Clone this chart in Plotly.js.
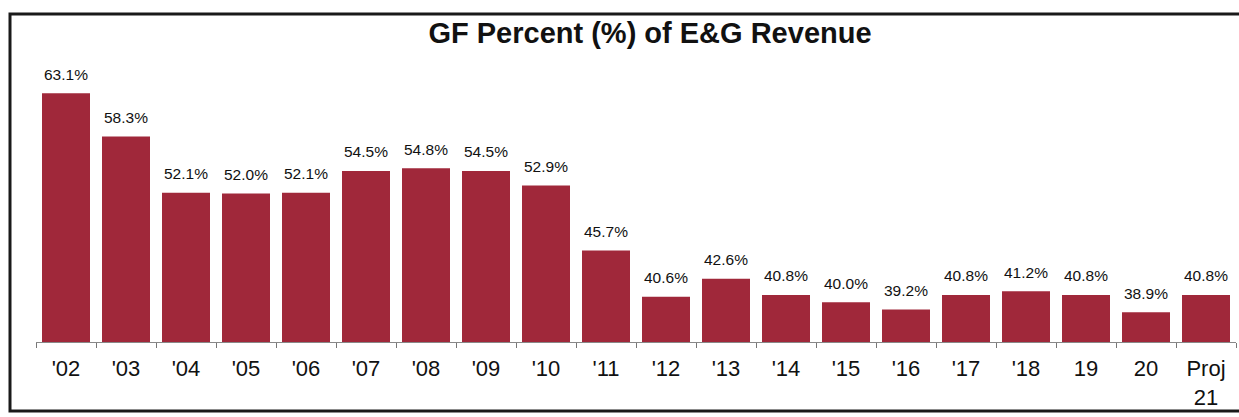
<!DOCTYPE html>
<html>
<head>
<meta charset="utf-8">
<script src="https://cdn.plot.ly/plotly-3.0.1.min.js"></script>
<style>
  html, body { margin: 0; padding: 0; background: #fff; }
  #chart { width: 1239px; height: 417px; }
</style>
</head>
<body>
<div id="chart"></div>
<script>
// Data
const categories = ["'02", "'03", "'04", "'05", "'06", "'07", "'08", "'09", "'10", "'11",
                    "'12", "'13", "'14", "'15", "'16", "'17", "'18", "19", "20", "Proj 21"];
const tickLabels = ["'02", "'03", "'04", "'05", "'06", "'07", "'08", "'09", "'10", "'11",
                    "'12", "'13", "'14", "'15", "'16", "'17", "'18", "19", "20", "Proj<br>21"];
const gfPercent = [63.1, 58.3, 52.1, 52.0, 52.1, 54.5, 54.8, 54.5, 52.9, 45.7,
                   40.6, 42.6, 40.8, 40.0, 39.2, 40.8, 41.2, 40.8, 38.9, 40.8];
const valueLabels = gfPercent.map(v => v.toFixed(1) + '%');

const FONT = '"Liberation Sans", Arial, Helvetica, sans-serif';

const trace = {
  type: 'bar',
  x: categories,
  y: gfPercent,
  marker: { color: '#a0283a' },
  hoverinfo: 'x+y'
};

// category axis: annotation x given as category index
const annotations = categories.map((c, i) => ({
  x: i, y: gfPercent[i], xref: 'x', yref: 'y',
  text: valueLabels[i], showarrow: false,
  yanchor: 'middle', yshift: 19,
  font: { family: FONT, size: 15.5, color: '#111' }
}));

const layout = {
  width: 1239, height: 417,
  margin: { l: 36, r: 3, t: 50, b: 75 },
  paper_bgcolor: '#fff', plot_bgcolor: '#fff',
  showlegend: false,
  bargap: 0.2,
  title: {
    text: '<b>GF Percent (%) of E&G Revenue</b>',
    font: { family: FONT, size: 29, color: '#111' },
    xref: 'container', yref: 'container',
    x: 650 / 1239, xanchor: 'center',
    y: 1 - 33 / 417, yanchor: 'middle'
  },
  xaxis: {
    type: 'category',
    range: [-0.5, 19.5],
    tickmode: 'array', tickvals: categories, ticktext: tickLabels,
    tickson: 'boundaries',
    ticks: 'outside', ticklen: 5, tickcolor: '#777', tickwidth: 1,
    ticklabelstandoff: 7,
    showline: true, linecolor: '#888', linewidth: 1,
    showgrid: false, zeroline: false,
    tickfont: { family: FONT, size: 22, color: '#111' },
    fixedrange: true
  },
  yaxis: {
    range: [35.6, 67.87],
    visible: false, showgrid: false, zeroline: false,
    fixedrange: true
  },
  annotations: annotations,
  shapes: [{
    type: 'rect', xref: 'paper', yref: 'paper',
    x0: (10 - 36) / 1200, x1: (1250 - 36) / 1200,
    y0: (342 - 411) / 292, y1: (342 - 14) / 292,
    line: { color: '#1a1a1a', width: 3 },
    fillcolor: 'rgba(0,0,0,0)', layer: 'above'
  }]
};

Plotly.newPlot('chart', [trace], layout, { staticPlot: true, displayModeBar: false });
</script>
</body>
</html>
